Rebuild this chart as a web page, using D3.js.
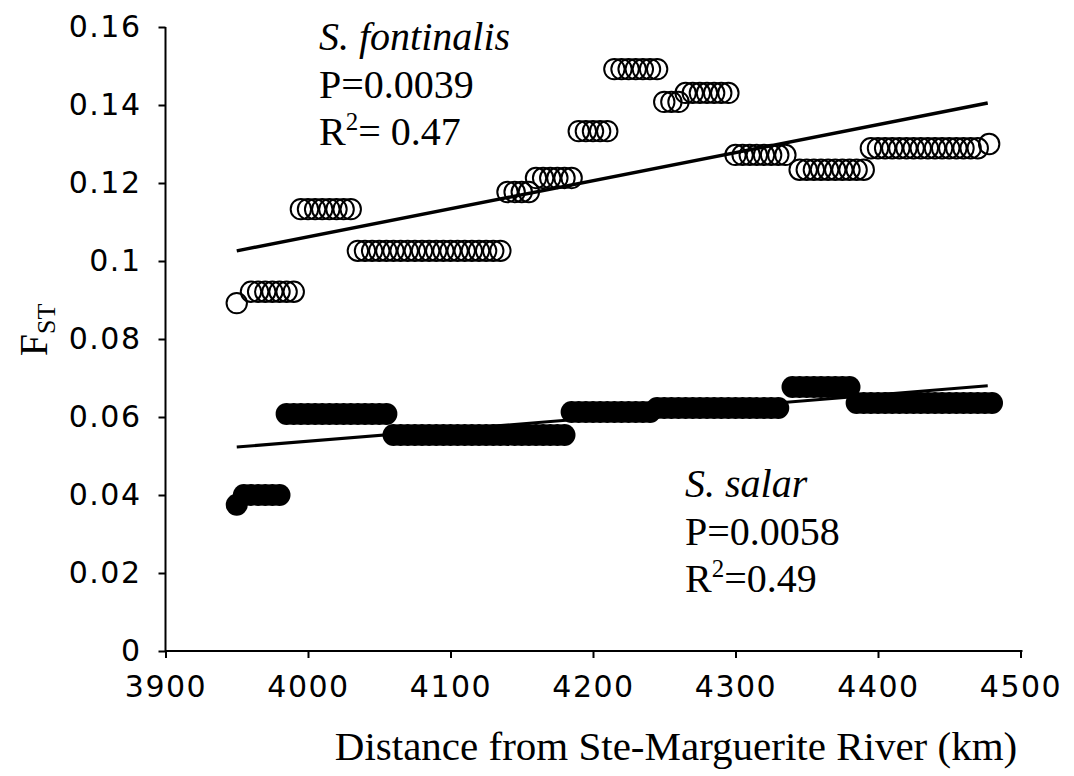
<!DOCTYPE html>
<html>
<head>
<meta charset="utf-8">
<script src="https://cdn.jsdelivr.net/npm/d3@7"></script>
<style>
  html, body { margin: 0; padding: 0; background: #fff; }
  svg { display: block; }
  .tick text { font-family: "DejaVu Sans", sans-serif; }
</style>
</head>
<body>
<svg id="chart" width="1074" height="776"></svg>
<script>
// Axis ticks
const xTicks = [3900, 4000, 4100, 4200, 4300, 4400, 4500];
const yTicks = [0, 0.02, 0.04, 0.06, 0.08, 0.1, 0.12, 0.14, 0.16];
const yTickLabels = ["0", "0.02", "0.04", "0.06", "0.08", "0.1", "0.12", "0.14", "0.16"];

// S. fontinalis: distance (km) and pairwise FST
const fontDist = [
  3950,
  3960, 3965, 3970, 3975, 3980, 3985, 3990,
  3995, 4000, 4005, 4010, 4015, 4020, 4025, 4030,
  4035, 4040, 4045, 4050, 4055, 4060, 4065, 4070, 4075, 4080, 4085,
  4090, 4095, 4100, 4105, 4110, 4115, 4120, 4125, 4130, 4135,
  4140, 4145, 4150, 4155,
  4160, 4165, 4170, 4175, 4180, 4185,
  4190, 4195, 4200, 4205, 4210,
  4215, 4220, 4225, 4230, 4235, 4240, 4245,
  4250, 4255, 4260,
  4265, 4270, 4275, 4280, 4285, 4290, 4295,
  4300, 4305, 4310, 4315, 4320, 4325, 4330, 4335,
  4345, 4350, 4355, 4360, 4365, 4370, 4375, 4380, 4385, 4390,
  4395, 4400, 4405, 4410, 4415, 4420, 4425, 4430, 4435, 4440, 4445,
  4450, 4455, 4460, 4465, 4470,
  4478
];
const fontFst = [
  0.0892,
  0.0921, 0.0921, 0.0921, 0.0921, 0.0921, 0.0921, 0.0921,
  0.1133, 0.1133, 0.1133, 0.1133, 0.1133, 0.1133, 0.1133, 0.1133,
  0.1026, 0.1026, 0.1026, 0.1026, 0.1026, 0.1026, 0.1026, 0.1026, 0.1026, 0.1026, 0.1026,
  0.1026, 0.1026, 0.1026, 0.1026, 0.1026, 0.1026, 0.1026, 0.1026, 0.1026, 0.1026,
  0.1177, 0.1177, 0.1177, 0.1177,
  0.1213, 0.1213, 0.1213, 0.1213, 0.1213, 0.1213,
  0.1333, 0.1333, 0.1333, 0.1333, 0.1333,
  0.1492, 0.1492, 0.1492, 0.1492, 0.1492, 0.1492, 0.1492,
  0.1408, 0.1408, 0.1408,
  0.1431, 0.1431, 0.1431, 0.1431, 0.1431, 0.1431, 0.1431,
  0.1272, 0.1272, 0.1272, 0.1272, 0.1272, 0.1272, 0.1272, 0.1272,
  0.1234, 0.1234, 0.1234, 0.1234, 0.1234, 0.1234, 0.1234, 0.1234, 0.1234, 0.1234,
  0.1289, 0.1289, 0.1289, 0.1289, 0.1289, 0.1289, 0.1289, 0.1289, 0.1289, 0.1289, 0.1289,
  0.1289, 0.1289, 0.1289, 0.1289, 0.1289,
  0.1300
];

// S. salar: distance (km) and pairwise FST
const salarDist = [
  3950,
  3955, 3960, 3965, 3970, 3975, 3980,
  3985, 3990, 3995, 4000, 4005, 4010, 4015, 4020, 4025, 4030, 4035, 4040, 4045, 4050, 4055,
  4060, 4065, 4070, 4075, 4080, 4085, 4090, 4095, 4100, 4105, 4110, 4115, 4120,
  4125, 4130, 4135, 4140, 4145, 4150, 4155, 4160, 4165, 4170, 4175, 4180,
  4185, 4190, 4195, 4200, 4205, 4210, 4215, 4220, 4225, 4230, 4235, 4240,
  4245, 4250, 4255, 4260, 4265, 4270, 4275, 4280, 4285, 4290, 4295, 4300, 4305,
  4310, 4315, 4320, 4325, 4330,
  4340, 4345, 4350, 4355, 4360, 4365, 4370, 4375, 4380,
  4385, 4390, 4395, 4400, 4405, 4410, 4415, 4420, 4425, 4430, 4435, 4440, 4445,
  4450, 4455, 4460, 4465, 4470, 4475, 4480
];
const salarFst = [
  0.0375,
  0.0400, 0.0400, 0.0400, 0.0400, 0.0400, 0.0400,
  0.0608, 0.0608, 0.0608, 0.0608, 0.0608, 0.0608, 0.0608, 0.0608, 0.0608, 0.0608, 0.0608, 0.0608, 0.0608, 0.0608, 0.0608,
  0.0554, 0.0554, 0.0554, 0.0554, 0.0554, 0.0554, 0.0554, 0.0554, 0.0554, 0.0554, 0.0554, 0.0554, 0.0554,
  0.0554, 0.0554, 0.0554, 0.0554, 0.0554, 0.0554, 0.0554, 0.0554, 0.0554, 0.0554, 0.0554, 0.0554,
  0.0613, 0.0613, 0.0613, 0.0613, 0.0613, 0.0613, 0.0613, 0.0613, 0.0613, 0.0613, 0.0613, 0.0613,
  0.0623, 0.0623, 0.0623, 0.0623, 0.0623, 0.0623, 0.0623, 0.0623, 0.0623, 0.0623, 0.0623, 0.0623, 0.0623,
  0.0623, 0.0623, 0.0623, 0.0623, 0.0623,
  0.0677, 0.0677, 0.0677, 0.0677, 0.0677, 0.0677, 0.0677, 0.0677, 0.0677,
  0.0636, 0.0636, 0.0636, 0.0636, 0.0636, 0.0636, 0.0636, 0.0636, 0.0636, 0.0636, 0.0636, 0.0636, 0.0636,
  0.0636, 0.0636, 0.0636, 0.0636, 0.0636, 0.0636, 0.0636
];

// Fitted regression lines (endpoints in km / FST)
const fontTrendDist = [3950, 4477];
const fontTrendFst = [0.1026, 0.1405];
const salarTrendDist = [3950, 4477];
const salarTrendFst = [0.0523, 0.0680];

const svg = d3.select("#chart");
const W = 1074, H = 776;
svg.append("rect").attr("width", W).attr("height", H).attr("fill", "#fff");

const x = d3.scaleLinear().domain([3900, 4500]).range([165.5, 1020.5]);
const y = d3.scaleLinear().domain([0, 0.16]).range([651, 27]);

// Axes
const xAxis = d3.axisBottom(x).tickValues(xTicks).tickFormat(d3.format("d"))
  .tickSizeInner(7).tickSizeOuter(0).tickPadding(18);
const yAxis = d3.axisLeft(y).tickValues(yTicks)
  .tickFormat((d, i) => yTickLabels[i]).tickSizeInner(7).tickSizeOuter(0).tickPadding(17);

const gx = svg.append("g").attr("transform", `translate(0,${y(0)})`).call(xAxis);
const gy = svg.append("g").attr("transform", `translate(${x(3900)},0)`).call(yAxis);

[gx, gy].forEach(g => {
  g.select(".domain").attr("stroke", "#000").attr("stroke-width", 2);
  g.selectAll(".tick line").attr("stroke", "#000").attr("stroke-width", 2);
  g.selectAll(".tick text").attr("fill", "#000").attr("font-size", 30)
    .attr("letter-spacing", 1.5);
});
gx.select(".domain").attr("d", `M${x(3900)},0H${x(4500) + 2}`);
gy.select(".domain").attr("d", `M0,${y(0)}V${y(0.16)}`);

// Data points
const fontData = fontDist.map((d, i) => [d, fontFst[i]]);
const salarData = salarDist.map((d, i) => [d, salarFst[i]]);

svg.append("g").selectAll("circle").data(fontData).join("circle")
  .attr("cx", d => x(d[0])).attr("cy", d => y(d[1])).attr("r", 10.2)
  .attr("fill", "none").attr("stroke", "#000").attr("stroke-width", 2);

svg.append("g").selectAll("circle").data(salarData).join("circle")
  .attr("cx", d => x(d[0])).attr("cy", d => y(d[1])).attr("r", 11)
  .attr("fill", "#000");

// Regression lines
const line = d3.line().x(d => x(d[0])).y(d => y(d[1]));
svg.append("path").datum(fontTrendDist.map((d, i) => [d, fontTrendFst[i]]))
  .attr("d", line).attr("fill", "none").attr("stroke", "#000").attr("stroke-width", 3.5);
svg.append("path").datum(salarTrendDist.map((d, i) => [d, salarTrendFst[i]]))
  .attr("d", line).attr("fill", "none").attr("stroke", "#000").attr("stroke-width", 3);

// Annotations
const serif = "'Liberation Serif', 'Times New Roman', serif";
function annot(x0, y0, species, p, r2) {
  const g = svg.append("g").attr("font-family", serif).attr("font-size", 40).attr("fill", "#000");
  g.append("text").attr("x", x0).attr("y", y0).attr("font-style", "italic").text(species);
  g.append("text").attr("x", x0).attr("y", y0 + 48).text(p);
  const t = g.append("text").attr("x", x0).attr("y", y0 + 95);
  t.append("tspan").text("R");
  t.append("tspan").attr("font-size", 25).attr("dy", -15).text("2");
  t.append("tspan").attr("dy", 15).text(r2);
}
annot(319, 50, "S. fontinalis", "P=0.0039", "= 0.47");
annot(685, 497, "S. salar", "P=0.0058", "=0.49");

// Axis titles
svg.append("text").attr("x", 676).attr("y", 760).attr("text-anchor", "middle")
  .attr("font-family", serif).attr("font-size", 41).attr("fill", "#000")
  .text("Distance from Ste-Marguerite River (km)");

const yl = svg.append("text").attr("transform", "translate(47,330) rotate(-90)")
  .attr("text-anchor", "middle").attr("font-family", serif).attr("font-size", 40).attr("fill", "#000");
yl.append("tspan").text("F");
yl.append("tspan").attr("font-size", 26).attr("dy", 8).text("ST");
</script>
</body>
</html>
